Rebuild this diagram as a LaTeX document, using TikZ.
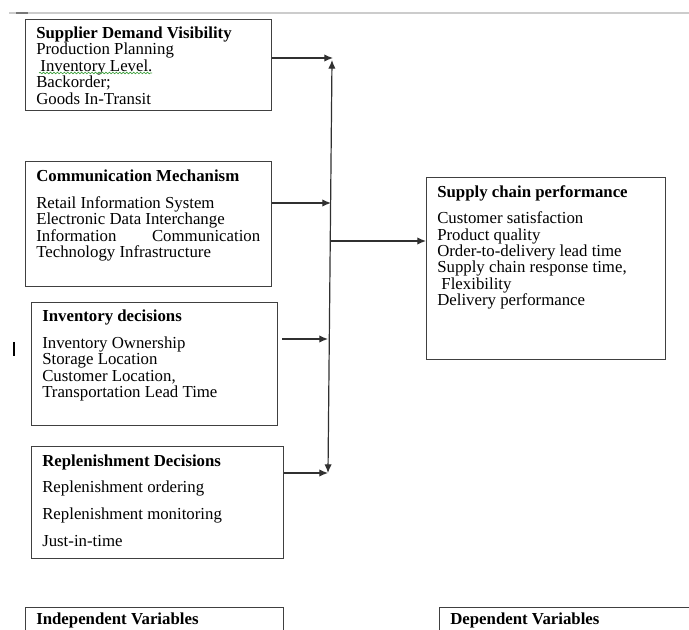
\documentclass[tikz,border=0pt]{standalone}
\usepackage{fontspec}
\setmainfont{Liberation Serif}
\usetikzlibrary{arrows.meta,decorations.pathmorphing}
\definecolor{boxgray}{HTML}{404040}
\definecolor{linegray}{HTML}{303030}
\definecolor{rulegray}{HTML}{CCCCCC}
\definecolor{darkrule}{HTML}{777777}
\definecolor{spellgreen}{HTML}{3CA03C}
\newcommand{\fsz}{\fontsize{12.6}{12.3}\selectfont}
\begin{document}
\begin{tikzpicture}[x=0.75pt,y=-0.75pt,
  box/.style={draw=boxgray,line width=1pt,inner sep=0pt,anchor=north west},
  txt/.style={anchor=north west,inner sep=0pt,align=left,font=\fsz,text=black},
  arr/.style={draw=linegray,line width=0.9pt,-{Latex[length=6.5pt,width=5.5pt]}},
  bus/.style={draw=linegray,line width=0.9pt,{Latex[length=6.5pt,width=5.5pt]}-{Latex[length=6.5pt,width=5.5pt]}}]
\clip (0,0) rectangle (689,630);
\fill[white] (0,0) rectangle (689,630);
% top rule
\draw[rulegray,line width=1.3pt] (9,13) -- (689,13);
\draw[darkrule,line width=1.3pt] (16,13) -- (28,13);
% boxes
\node[box,minimum width=184.5pt,minimum height=68.25pt] (b1) at (25,19) {};
\node[box,minimum width=184.5pt,minimum height=93.75pt] (b2) at (25,161) {};
\node[box,minimum width=184.5pt,minimum height=92.25pt] (b3) at (31,302) {};
\node[box,minimum width=189pt,minimum height=84pt] (b4) at (31,446) {};
\node[box,minimum width=193.5pt,minimum height=40pt] (b5) at (25,607) {};
\node[box,minimum width=179.25pt,minimum height=136.5pt] (sc) at (426,177) {};
\node[box,minimum width=195.75pt,minimum height=40pt] (dv) at (439,607) {};
% texts
\node[txt] (t1) at (36,26.5) {\textbf{Supplier Demand Visibility}\\Production Planning\\\ Inventory Level.\\Backorder;\\Goods In-Transit};
\draw[spellgreen,line width=0.5pt,decorate,decoration={snake,amplitude=0.6pt,segment length=2.6pt}] (39,73) -- (152,73);
\node[txt] (t2) at (36,169.5) {\textbf{Communication Mechanism}\\[8pt]Retail Information System\\Electronic Data Interchange\\\makebox[168pt][l]{Information\hfill Communication}\\Technology Infrastructure};
\node[txt] (t3) at (42,309.5) {\textbf{Inventory decisions}\\[8pt]Inventory Ownership\\Storage Location\\Customer Location,\\Transportation Lead Time};
\node[txt] (t4) at (42,454.5) {\textbf{Replenishment Decisions}\\[7.6pt]Replenishment ordering\\[7.6pt]Replenishment monitoring\\[7.6pt]Just-in-time};
\node[txt] (t5) at (36,613) {\textbf{Independent Variables}};
\node[txt] (t6) at (437,185.5) {\textbf{Supply chain performance}\\[7.3pt]Customer satisfaction\\Product quality\\Order-to-delivery lead time\\Supply chain response time,\\\ Flexibility\\Delivery performance};
\node[txt] (t7) at (450,613) {\textbf{Dependent Variables}};
% cursor mark
\draw[black,line width=2.2pt] (14,342) -- (14,356);
% connectors
\coordinate (bt) at (332,60);
\coordinate (bb) at (328,473);
\draw[bus] (bb) -- (bt);
\coordinate (j1) at (333,58);
\draw[arr] (b1.east |- j1) -- (j1);
\coordinate (j2) at (331,203);
\draw[arr] (b2.east |- j2) -- (j2);
\coordinate (s3) at (282,339);
\coordinate (j3) at (328,339);
\draw[arr] (s3) -- (j3);
\coordinate (j4) at (328,473);
\draw[arr] (b4.east |- j4) -- (j4);
\coordinate (o) at (331,241);
\draw[arr] (o) -- (sc.west |- o);
\end{tikzpicture}
\end{document}
